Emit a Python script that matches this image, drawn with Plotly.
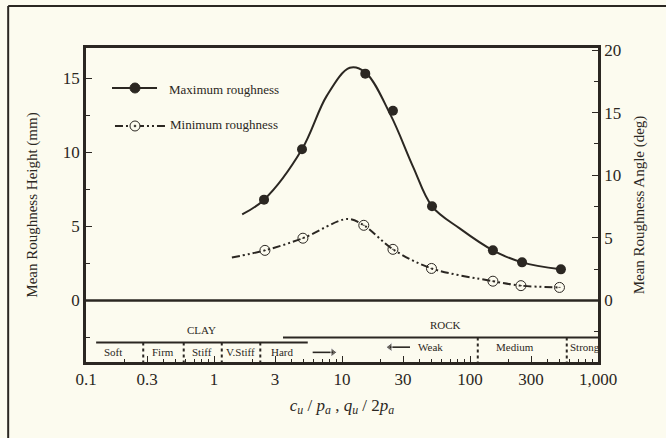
import math
import plotly.graph_objects as go

# ---------------- data ----------------
# Maximum roughness: measured points
max_x = [2.46, 4.87, 15.2, 25, 50.5, 151, 255, 513]
max_y = [6.8, 10.2, 15.3, 12.8, 6.35, 3.38, 2.57, 2.1]
# Maximum roughness: hand-drawn trend curve
max_curve_x = [1.66, 2.46, 4.87, 7.6, 11.5, 15.2, 24, 36, 50.5, 83, 151, 255, 513]
max_curve_y = [5.8, 6.8, 10.2, 13.8, 15.7, 15.4, 12.5, 9.0, 6.35, 4.86, 3.38, 2.57, 2.1]

# Minimum roughness: measured points
min_x = [2.5, 4.95, 14.8, 25, 50, 151, 250, 500]
min_y = [3.38, 4.2, 5.07, 3.45, 2.16, 1.3, 1.0, 0.88]
# Minimum roughness: trend curve
min_curve_x = [1.38, 2.5, 4.95, 11, 14.8, 25, 50, 151, 250, 500]
min_curve_y = [2.9, 3.38, 4.2, 5.5, 5.07, 3.45, 2.16, 1.3, 1.0, 0.88]

series_names = ["Maximum roughness", "Minimum roughness"]

# Axis ticks
x_tickvals = [0.1, 0.3, 1, 3, 10, 30, 100, 300, 1000]
x_ticktext = ["0.1", "0.3", "1", "3", "10", "30", "100", "300", "1,000"]
y_left_ticks = [0, 5, 10, 15]
y_right_ticks = [0, 5, 10, 15, 20]

# Material classification band
clay_extent = [0.12, 5.4]
clay_level = -2.84
rock_extent = [3.46, 1000]
rock_level = -2.5
band_bottom = -4.15
clay_dividers = [0.28, 0.58, 1.15, 2.3]
rock_dividers = [115, 570]
clay_names = ["Soft", "Firm", "Stiff", "V.Stiff", "Hard"]
clay_name_x = [0.163, 0.40, 0.805, 1.6, 3.4]
rock_names = ["Weak", "Medium"]
rock_name_x = [48.7, 223]
strong_x = 585
# direction arrows (tail, head)
arrow_right_x = [5.9, 8.5]
arrow_left_x = [34, 23.7]

INK = "#2b2722"
BG = "#fcfbef"
SERIF = "Liberation Serif, Times New Roman, serif"
DASHDOTDOT = "8px,3px,2px,3px,2px,3px"

fig = go.Figure()

# curves
fig.add_trace(go.Scatter(x=max_curve_x, y=max_curve_y, mode="lines",
                         line=dict(color=INK, width=2, shape="spline", smoothing=1.0),
                         showlegend=False, hoverinfo="skip"))
fig.add_trace(go.Scatter(x=min_curve_x, y=min_curve_y, mode="lines",
                         line=dict(color=INK, width=2, shape="spline", smoothing=0.9, dash=DASHDOTDOT),
                         showlegend=False, hoverinfo="skip"))
# points
fig.add_trace(go.Scatter(x=max_x, y=max_y, mode="markers", name=series_names[0],
                         marker=dict(symbol="circle", size=10, color=INK),
                         showlegend=False))
fig.add_trace(go.Scatter(x=min_x, y=min_y, mode="markers", name=series_names[1],
                         marker=dict(symbol="circle-open-dot", size=10, color=INK, line=dict(width=1)),
                         showlegend=False))

# dummy trace on right axis
fig.add_trace(go.Scatter(x=[None], y=[None], yaxis="y2", showlegend=False))

# zero line
fig.add_trace(go.Scatter(x=[0.1, 1000], y=[0, 0], mode="lines",
                         line=dict(color=INK, width=2.5), showlegend=False, hoverinfo="skip"))
# clay / rock lines
fig.add_trace(go.Scatter(x=clay_extent, y=[clay_level, clay_level], mode="lines",
                         line=dict(color=INK, width=2), showlegend=False, hoverinfo="skip"))
fig.add_trace(go.Scatter(x=rock_extent, y=[rock_level, rock_level], mode="lines",
                         line=dict(color=INK, width=2), showlegend=False, hoverinfo="skip"))
# dividers
for d in clay_dividers:
    fig.add_trace(go.Scatter(x=[d, d], y=[clay_level, band_bottom], mode="lines",
                             line=dict(color=INK, width=2, dash="dot"), showlegend=False, hoverinfo="skip"))
for d in rock_dividers:
    fig.add_trace(go.Scatter(x=[d, d], y=[rock_level, band_bottom], mode="lines",
                             line=dict(color=INK, width=2, dash="dot"), showlegend=False, hoverinfo="skip"))
# arrows
fig.add_trace(go.Scatter(x=arrow_right_x, y=[-3.5, -3.5], mode="lines+markers",
                         line=dict(color=INK, width=1.6),
                         marker=dict(symbol=["line-ns", "triangle-right"], size=[0, 8], color=INK),
                         showlegend=False, hoverinfo="skip"))
fig.add_trace(go.Scatter(x=arrow_left_x, y=[-3.15, -3.15], mode="lines+markers",
                         line=dict(color=INK, width=1.6),
                         marker=dict(symbol=["line-ns", "triangle-left"], size=[0, 8], color=INK),
                         showlegend=False, hoverinfo="skip"))

ann = []
small = dict(family=SERIF, size=11, color=INK)
for name, xv in zip(clay_names, clay_name_x):
    ann.append(dict(x=math.log10(xv), y=-3.5, text=name, showarrow=False, font=small,
                    xref="x", yref="y"))
for name, xv in zip(rock_names, rock_name_x):
    ann.append(dict(x=math.log10(xv), y=-3.15, text=name, showarrow=False, font=small,
                    xref="x", yref="y"))
ann.append(dict(x=math.log10(strong_x), y=-3.15, text="Strong", showarrow=False, font=small,
                xanchor="left", xref="x", yref="y"))
ann.append(dict(x=math.log10(0.805), y=-2.0, text="CLAY", showarrow=False, font=small,
                xref="x", yref="y"))
ann.append(dict(x=math.log10(64.9), y=-1.66, text="ROCK", showarrow=False, font=small,
                xref="x", yref="y"))

# ---- hand-placed legend (paper coordinates) ----
legfont = dict(family=SERIF, size=13, color=INK)
ann.append(dict(x=0.158, y=0.868, xref="paper", yref="paper", text=series_names[0],
                showarrow=False, xanchor="left", yanchor="middle", font=legfont))
ann.append(dict(x=0.160, y=0.757, xref="paper", yref="paper", text=series_names[1],
                showarrow=False, xanchor="left", yanchor="middle", font=legfont))

rx, ry = 5 / 512, 5 / 314
shapes = [
    # outer frame (top and left edges)
    dict(type="line", xref="paper", yref="paper", x0=-0.152, x1=1.2, y0=1.134, y1=1.134,
         line=dict(color=INK, width=2)),
    dict(type="line", xref="paper", yref="paper", x0=-0.152, x1=-0.152, y0=1.134, y1=-0.3,
         line=dict(color=INK, width=2)),
    # legend sample: max
    dict(type="line", xref="paper", yref="paper", x0=0.0508, x1=0.1387, y0=0.8726, y1=0.8726,
         line=dict(color=INK, width=2)),
    dict(type="circle", xref="paper", yref="paper", x0=0.0957 - rx, x1=0.0957 + rx,
         y0=0.8726 - ry, y1=0.8726 + ry, fillcolor=INK, line=dict(color=INK, width=1)),
    # legend sample: min
    dict(type="line", xref="paper", yref="paper", x0=0.0566, x1=0.1543, y0=0.7516, y1=0.7516,
         line=dict(color=INK, width=2, dash=DASHDOTDOT)),
    dict(type="circle", xref="paper", yref="paper", x0=0.0957 - rx, x1=0.0957 + rx,
         y0=0.7516 - ry, y1=0.7516 + ry, fillcolor=BG, line=dict(color=INK, width=1)),
    dict(type="circle", xref="paper", yref="paper", x0=0.0957 - rx / 5, x1=0.0957 + rx / 5,
         y0=0.7516 - ry / 5, y1=0.7516 + ry / 5, fillcolor=INK, line=dict(color=INK, width=0.5)),
]

fig.update_layout(
    width=666, height=438,
    margin=dict(l=86, r=68, t=48, b=76),
    paper_bgcolor=BG, plot_bgcolor=BG,
    font=dict(family=SERIF, color=INK),
    annotations=ann, shapes=shapes,
    showlegend=False,
    xaxis=dict(type="log", range=[-1, 3], tickmode="array", tickvals=x_tickvals, ticktext=x_ticktext,
               ticks="inside", ticklen=6, tickwidth=1, tickcolor=INK,
               minor=dict(ticks="inside", ticklen=3, tickcolor=INK, dtick="D1"),
               showgrid=False, zeroline=False, showline=True, linecolor=INK, linewidth=2.5, mirror=True,
               tickfont=dict(size=17, family=SERIF, color=INK),
               title=dict(text="<i>c<sub>u</sub></i> / <i>p<sub>a</sub></i> , <i>q<sub>u</sub></i> / 2<i>p<sub>a</sub></i>",
                          font=dict(size=17, family=SERIF, color=INK), standoff=11)),
    yaxis=dict(range=[-4.15, 17.03], tickmode="array", tickvals=y_left_ticks,
               ticks="inside", ticklen=6, tickwidth=1, tickcolor=INK,
               minor=dict(ticks="inside", ticklen=4, tickcolor=INK, dtick=2.5, tick0=0),
               showgrid=False, zeroline=False, showline=True, linecolor=INK, linewidth=2.5,
               tickfont=dict(size=17, family=SERIF, color=INK),
               title=dict(text="Mean Roughness Height (mm)", font=dict(size=15, family=SERIF, color=INK),
                          standoff=22)),
    yaxis2=dict(overlaying="y", side="right", range=[-4.91, 20.16], tickmode="array",
                tickvals=y_right_ticks, ticks="inside", ticklen=6, tickwidth=1, tickcolor=INK,
                minor=dict(ticks="inside", ticklen=4, tickcolor=INK, dtick=2.5, tick0=0),
                showgrid=False, zeroline=False, showline=True, linecolor=INK, linewidth=2.5,
                tickfont=dict(size=17, family=SERIF, color=INK),
                title=dict(text="Mean Roughness Angle (deg)", font=dict(size=15, family=SERIF, color=INK),
                           standoff=14)),
)

fig.write_html("out.html", config={"displayModeBar": False},
               post_script="document.body.style.margin='0';document.body.style.background='%s';" % BG)
